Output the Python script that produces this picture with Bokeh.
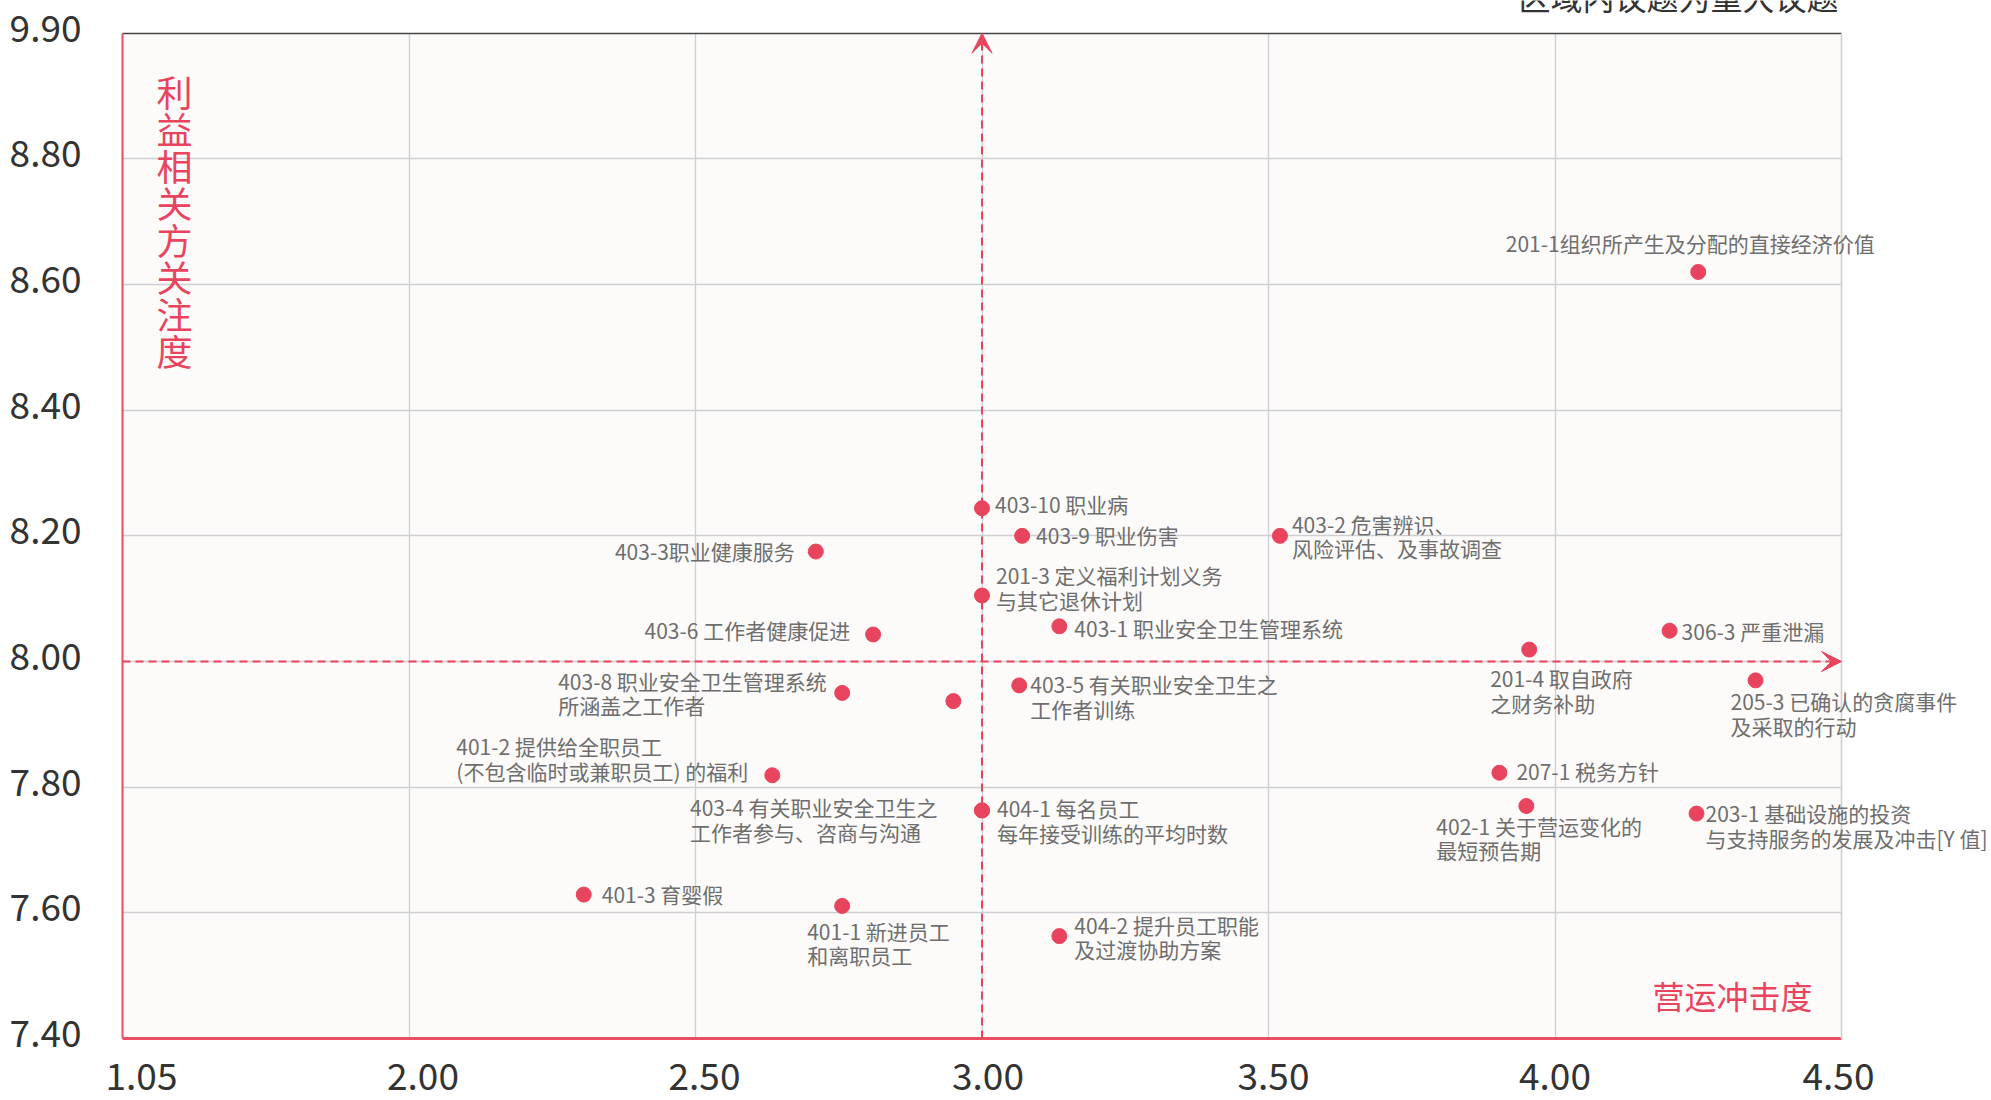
from bokeh.plotting import figure
from bokeh.models import (ColumnDataSource, LabelSet, Label, FixedTicker, Grid,
                          Arrow, VeeHead, Range1d, LinearAxis, BoxAnnotation)
from bokeh.core.properties import value
from bokeh.embed import file_html
from bokeh.resources import INLINE

# ---------------- data ----------------
topic_names = [
    "201-1组织所产生及分配的直接经济价值",
    "403-10 职业病",
    "403-9 职业伤害",
    "403-2 危害辨识、\n风险评估、及事故调查",
    "403-3职业健康服务",
    "201-3 定义福利计划义务\n与其它退休计划",
    "403-6 工作者健康促进",
    "403-1 职业安全卫生管理系统",
    "306-3 严重泄漏",
    "201-4 取自政府\n之财务补助",
    "205-3 已确认的贪腐事件\n及采取的行动",
    "403-8 职业安全卫生管理系统\n所涵盖之工作者",
    "",
    "403-5 有关职业安全卫生之\n工作者训练",
    "401-2 提供给全职员工\n(不包含临时或兼职员工) 的福利",
    "207-1 税务方针",
    "402-1 关于营运变化的\n最短预告期",
    "203-1 基础设施的投资\n与支持服务的发展及冲击[Y 值]",
    "404-1 每名员工\n每年接受训练的平均时数",
    "403-4 有关职业安全卫生之\n工作者参与、咨商与沟通",
    "401-3 育婴假",
    "401-1 新进员工\n和离职员工",
    "404-2 提升员工职能\n及过渡协助方案",
]
impact = [4.25, 3.00, 3.07, 3.52, 2.71, 3.00, 2.81, 3.135, 4.20, 3.955, 4.35,
          2.756, 2.95, 3.065, 2.634, 3.903, 3.95, 4.247, 3.00, 3.00, 2.305, 2.756, 3.135]
concern = [8.62, 8.244, 8.20, 8.20, 8.175, 8.105, 8.043, 8.056, 8.049, 8.019, 7.97,
           7.95, 7.937, 7.962, 7.819, 7.823, 7.77, 7.758, 7.763, 7.763, 7.629, 7.611, 7.563]

x_tick_values = [1.5, 2.0, 2.5, 3.0, 3.5, 4.0, 4.5]
x_tick_labels = ["1.05", "2.00", "2.50", "3.00", "3.50", "4.00", "4.50"]
y_tick_values = [7.4, 7.6, 7.8, 8.0, 8.2, 8.4, 8.6, 8.8, 9.0]
y_tick_labels = ["7.40", "7.60", "7.80", "8.00", "8.20", "8.40", "8.60", "8.80", "9.90"]

x_threshold = 3.0
y_threshold = 8.0

x_axis_title = "营运冲击度"
y_axis_title = "利益相关方关注度"
corner_note = "区域内议题为重大议题"

# ---------------- label layout (screen px, dy positive = down) ----------------
label_dx = [-8, 13, 14, 12, -21, 14, -23, 15, 12, -39, -25,
            -284, 0, 11, -316, 17, -90, 9, 15, -292, 18, -35, 15]
label_dy = [-29, -4, -1, 0, -1, -8, -4, 2, 0, 41, 33,
            0, 0, 11, -17, -2, 32, 12, 10, 9, -1, 37, 1]
label_align = ["center", "left", "left", "left", "right", "left", "right", "left", "left", "left", "left",
               "left", "left", "left", "left", "left", "left", "left", "left", "left", "left", "left", "left"]

RED = "#E9445D"
AXIS_RED = "#EB4D63"
FONT = "Noto Sans CJK SC"

# ---------------- page geometry (px) ----------------
W, H = 1991, 1100
F_LEFT, F_RIGHT, F_TOP, F_BOTTOM = 122.0, 1841.0, 32.7, 1038.0
x0, x1 = x_tick_values[0], x_tick_values[-1]
y0, y1 = y_tick_values[0], y_tick_values[-1]
ppx = (F_RIGHT - F_LEFT) / (x1 - x0)
ppy = (F_BOTTOM - F_TOP) / (y1 - y0)
xr = Range1d(x0 - F_LEFT / ppx, x1 + (W - F_RIGHT) / ppx)
yr = Range1d(y0 - (H - F_BOTTOM) / ppy, y1 + F_TOP / ppy)

x_label_shift_px = [19, 14, 9, 6, 5, 0, -3]
y_label_shift_px = 5
x_label_pos = [round(v + s / ppx, 5) for v, s in zip(x_tick_values, x_label_shift_px)]
y_label_pos = [round(v + y_label_shift_px / ppy, 5) for v in y_tick_values]

p = figure(width=W, height=H, x_range=xr, y_range=yr,
           x_axis_type=None, y_axis_type=None,
           output_backend="svg", toolbar_location=None, title_location=None,
           min_border=0, background_fill_color="#FFFFFF", border_fill_color="#FFFFFF",
           outline_line_color=None)

# plot-area background
p.add_layout(BoxAnnotation(left=x0, right=x1, bottom=y0, top=y1,
                           fill_color="#FCFBFA", fill_alpha=1.0, line_color=None, level="underlay"))

# grid
has_cross = "cross_bounds" in Grid.properties()
grid_kw = dict(grid_line_color="#CFCFD3", grid_line_width=1.3)
if has_cross:
    p.add_layout(Grid(dimension=0, ticker=FixedTicker(ticks=x_tick_values[1:-1]),
                      cross_bounds=(y0, y1), **grid_kw))
    p.add_layout(Grid(dimension=1, ticker=FixedTicker(ticks=y_tick_values[1:-1]),
                      cross_bounds=(x0, x1), **grid_kw))
else:
    gx = x_tick_values[1:-1]
    gy = y_tick_values[1:-1]
    p.segment(x0=gx, y0=[y0] * len(gx), x1=gx, y1=[y1] * len(gx),
              line_color="#CFCFD3", line_width=1.3, level="underlay")
    p.segment(x0=[x0] * len(gy), y0=gy, x1=[x1] * len(gy), y1=gy,
              line_color="#CFCFD3", line_width=1.3, level="underlay")


def line_axis(loc, fixed, bounds, color, width):
    ax = LinearAxis(fixed_location=fixed, bounds=bounds, ticker=FixedTicker(ticks=[]),
                    axis_line_color=color, axis_line_width=width,
                    major_tick_line_color=None, minor_tick_line_color=None,
                    major_label_text_font_size="0px")
    p.add_layout(ax, loc)


def label_axis(loc, fixed, ticks, labels, standoff):
    ax = LinearAxis(fixed_location=fixed, ticker=FixedTicker(ticks=ticks),
                    major_label_overrides={v: t for v, t in zip(ticks, labels)},
                    axis_line_color=None, major_tick_line_color=None, minor_tick_line_color=None,
                    major_label_text_font=FONT, major_label_text_font_size="37px",
                    major_label_text_color="#333333", major_label_standoff=standoff)
    p.add_layout(ax, loc)


label_axis("below", y0, x_label_pos, x_tick_labels, 18)
label_axis("left", x0, y_label_pos, y_tick_labels, 35)
line_axis("above", y1, (x0, x1), "#444444", 1.6)
line_axis("right", x1, (y0, y1), "#D0D0D0", 1.6)
line_axis("below", y0, (x0, x1), AXIS_RED, 3)
line_axis("left", x0, (y0, y1), AXIS_RED, 2)

# threshold arrows
for xs, ys, xe, ye in [(x_threshold, y0, x_threshold, y1), (x0, y_threshold, x1, y_threshold)]:
    p.add_layout(Arrow(x_start=xs, y_start=ys, x_end=xe, y_end=ye,
                       line_color=RED, line_width=2, line_dash="8 5",
                       end=VeeHead(size=20, fill_color=RED, fill_alpha=1.0,
                                   line_color=RED, line_width=1)))

# points
src = ColumnDataSource(dict(x=impact, y=concern, name=topic_names,
                            dx=label_dx, ndy=[-d for d in label_dy], align=label_align))
p.scatter("x", "y", source=src, size=15, fill_color=RED, line_color=RED)

p.add_layout(LabelSet(x="x", y="y", text="name", source=src,
                      x_offset="dx", y_offset="ndy", text_align="align",
                      text_baseline="middle", text_font=value(FONT), text_font_size="21px",
                      text_color="#6E6E6E", text_line_height=0.82))

# axis titles / notes
p.add_layout(Label(x=x0, y=y1, x_offset=34, y_offset=-32,
                   text="\n".join(y_axis_title), text_align="left", text_baseline="top",
                   text_font=FONT, text_font_size="36px", text_color=RED, text_line_height=0.71))
p.add_layout(Label(x=x1, y=y0, x_offset=-29, y_offset=44,
                   text=x_axis_title, text_align="right", text_baseline="alphabetic",
                   text_font=FONT, text_font_size="32px", text_color=RED))
p.add_layout(Label(x=x1, y=y1, x_offset=-3, y_offset=37,
                   text=corner_note, text_align="right", text_baseline="alphabetic",
                   text_font=FONT, text_font_size="32px", text_color="#333333"))

open("out.html", "w").write(file_html(p, INLINE))
